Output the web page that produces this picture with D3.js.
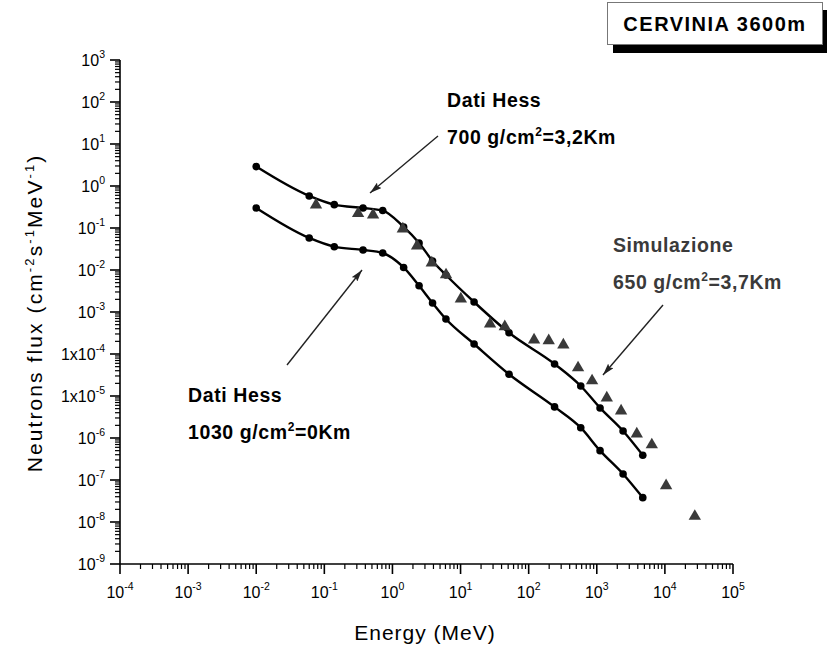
<!DOCTYPE html>
<html><head><meta charset="utf-8">
<script src="https://cdn.jsdelivr.net/npm/d3@7"></script>
<style>body{margin:0;background:#fff;} svg{display:block;}</style>
</head><body>
<svg id="chart" width="827" height="645"></svg>
<script>
// ---- data ----
const energies = [0.01, 0.06, 0.14, 0.37, 0.72, 1.46, 2.46, 3.88, 6.1, 15.8, 51.5, 240, 582, 1117, 2433, 4735];
const flux700 = [2.9, 0.58, 0.36, 0.30, 0.26, 0.106, 0.044, 0.0164, 0.0076, 0.00173, 3.2e-4, 5.8e-5, 1.73e-5, 5.2e-6, 1.47e-6, 3.9e-7];
const flux1030 = [0.30, 0.058, 0.0359, 0.030, 0.0254, 0.0115, 0.0042, 0.00164, 6.8e-4, 1.73e-4, 3.3e-5, 5.5e-6, 1.76e-6, 5.0e-7, 1.39e-7, 3.8e-8];
const simEnergy = [0.0755, 0.313, 0.519, 1.42, 2.30, 3.78, 6.12, 10.1, 27.1, 44.6, 120, 197, 323, 531, 853, 1403, 2274, 3867, 6424, 10420, 27500];
const simFlux = [0.353, 0.221, 0.204, 0.0947, 0.0373, 0.0147, 0.0077, 0.00204, 5.2e-4, 4.5e-4, 2.16e-4, 2.07e-4, 1.64e-4, 4.7e-5, 2.3e-5, 9.0e-6, 4.4e-6, 1.25e-6, 6.9e-7, 7.3e-8, 1.37e-8];
const xTickExps = [-4, -3, -2, -1, 0, 1, 2, 3, 4, 5];
const yTickExps = [3, 2, 1, 0, -1, -2, -3, -4, -5, -6, -7, -8, -9];
const yTickPrefix = {"-4": "1x", "-5": "1x"};

const svg = d3.select("#chart");
const font = "'Liberation Sans', Arial, sans-serif";
const x = d3.scaleLog().domain([1e-4, 1e5]).range([120, 733]);
const y = d3.scaleLog().domain([1e-9, 1e3]).range([564, 60]);

// axes lines
const ax = svg.append("g").attr("stroke", "#000").attr("stroke-width", 1.6);
ax.append("line").attr("x1", x(1e-4)).attr("x2", x(1e5)).attr("y1", y(1e-9)).attr("y2", y(1e-9));
ax.append("line").attr("x1", x(1e-4)).attr("x2", x(1e-4)).attr("y1", y(1e-9)).attr("y2", y(1e3));

// ticks
const minor = [2,3,4,5,6,7,8,9];
xTickExps.forEach(e => {
  const v = Math.pow(10, e);
  ax.append("line").attr("x1", x(v)).attr("x2", x(v)).attr("y1", y(1e-9)).attr("y2", y(1e-9) + 10);
  if (e < 5) minor.forEach(m => {
    ax.append("line").attr("x1", x(v*m)).attr("x2", x(v*m)).attr("y1", y(1e-9)).attr("y2", y(1e-9) + 5).attr("stroke-width", 1.2);
  });
  const t = svg.append("text").attr("x", x(v)).attr("y", 598).attr("text-anchor", "middle")
    .attr("font-family", font).attr("font-size", 16);
  t.append("tspan").text("10");
  t.append("tspan").attr("dy", -8).attr("font-size", 10.5).text(e);
});
yTickExps.forEach(e => {
  const v = Math.pow(10, e);
  ax.append("line").attr("x1", x(1e-4) - 10).attr("x2", x(1e-4)).attr("y1", y(v)).attr("y2", y(v));
  if (e < 3) minor.forEach(m => {
    ax.append("line").attr("x1", x(1e-4) - 5).attr("x2", x(1e-4)).attr("y1", y(v*m)).attr("y2", y(v*m)).attr("stroke-width", 1.2);
  });
  const t = svg.append("text").attr("x", 105).attr("y", y(v) + 6).attr("text-anchor", "end")
    .attr("font-family", font).attr("font-size", 16);
  t.append("tspan").text((yTickPrefix[e] || "") + "10");
  t.append("tspan").attr("dy", -8).attr("font-size", 10.5).text(e);
});

// axis titles
svg.append("text").attr("x", 425).attr("y", 640).attr("text-anchor", "middle")
  .attr("font-family", font).attr("font-size", 21).attr("letter-spacing", 1).text("Energy (MeV)");
const yt = svg.append("text").attr("transform", "translate(42,313) rotate(-90)").attr("text-anchor", "middle")
  .attr("font-family", font).attr("font-size", 21).attr("letter-spacing", 2.1);
yt.append("tspan").text("Neutrons flux (cm");
yt.append("tspan").attr("dy", -8).attr("font-size", 13).text("-2");
yt.append("tspan").attr("dy", 8).text("s");
yt.append("tspan").attr("dy", -8).attr("font-size", 13).text("-1");
yt.append("tspan").attr("dy", 8).text("MeV");
yt.append("tspan").attr("dy", -8).attr("font-size", 13).text("-1");
yt.append("tspan").attr("dy", 8).text(")");

// curves
const line = d3.line().x(d => x(d[0])).y(d => y(d[1])).curve(d3.curveMonotoneX);
[flux700, flux1030].forEach(fl => {
  const pts = energies.map((e, i) => [e, fl[i]]);
  svg.append("path").attr("d", line(pts)).attr("fill", "none").attr("stroke", "#000").attr("stroke-width", 2.4);
  svg.append("g").selectAll("circle").data(pts).join("circle")
    .attr("cx", d => x(d[0])).attr("cy", d => y(d[1])).attr("r", 3.8).attr("fill", "#000");
});

// triangles
const tri = d3.symbol().type(d3.symbolTriangle).size(66);
svg.append("g").selectAll("path").data(simEnergy.map((e, i) => [e, simFlux[i]])).join("path")
  .attr("d", tri).attr("transform", d => `translate(${x(d[0])},${y(d[1])})`).attr("fill", "#3a3a3a");

// annotations
function label(xp, yp, lines, color) {
  lines.forEach((ln, i) => {
    const t = svg.append("text").attr("x", xp).attr("y", yp + i * 37).attr("font-family", font)
      .attr("font-size", 19.5).attr("font-weight", "bold").attr("letter-spacing", 0.6).attr("fill", color);
    if (Array.isArray(ln)) {
      t.append("tspan").text(ln[0]);
      t.append("tspan").attr("dy", -8).attr("font-size", 12).text("2");
      t.append("tspan").attr("dy", 8).text(ln[1]);
    } else t.text(ln);
  });
}
label(447, 107, ["Dati Hess", ["700 g/cm", "=3,2Km"]], "#000");
label(188, 402, ["Dati Hess", ["1030 g/cm", "=0Km"]], "#000");
label(613, 252, ["Simulazione", ["650 g/cm", "=3,7Km"]], "#3a3a3a");

// arrows
const defs = svg.append("defs");
defs.append("marker").attr("id", "ah").attr("viewBox", "0 0 12 7").attr("refX", 12).attr("refY", 3.5)
  .attr("markerWidth", 12).attr("markerHeight", 7).attr("markerUnits", "userSpaceOnUse").attr("orient", "auto")
  .append("path").attr("d", "M0,0 L12,3.5 L0,7 L2,3.5 Z").attr("fill", "#222");
[[438, 136, 370, 193], [287, 365, 362, 270], [663, 305, 603, 375]].forEach(a => {
  svg.append("line").attr("x1", a[0]).attr("y1", a[1]).attr("x2", a[2]).attr("y2", a[3])
    .attr("stroke", "#222").attr("stroke-width", 1.4).attr("marker-end", "url(#ah)");
});

// title box
svg.append("rect").attr("x", 613).attr("y", 10).attr("width", 214).attr("height", 43).attr("fill", "#000");
svg.append("rect").attr("x", 607.5).attr("y", 2.5).attr("width", 215).attr("height", 42).attr("fill", "#fff").attr("stroke", "#777").attr("stroke-width", 1);
svg.append("text").attr("x", 715).attr("y", 31).attr("text-anchor", "middle").attr("font-family", font)
  .attr("font-size", 20).attr("font-weight", "bold").attr("letter-spacing", 1.5).text("CERVINIA 3600m");
</script>
</body></html>
